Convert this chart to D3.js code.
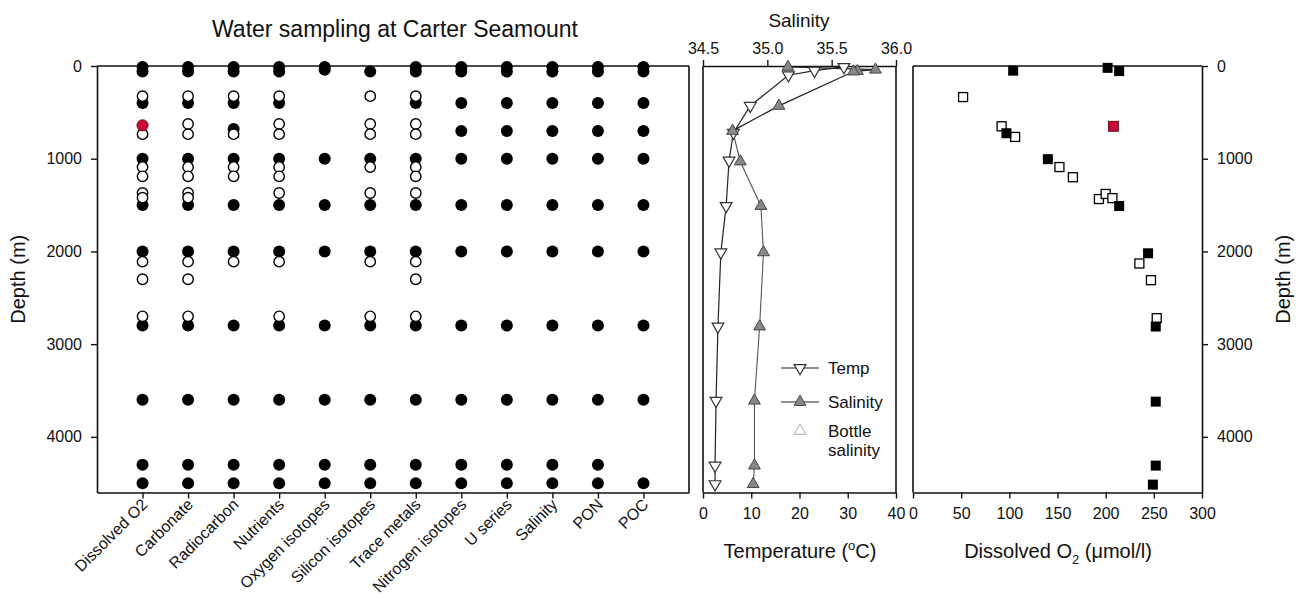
<!DOCTYPE html>
<html><head><meta charset="utf-8">
<script src="https://cdn.jsdelivr.net/npm/d3@7"></script>
<style>
body{margin:0;background:#fff;}
svg text{font-family:Arial,"Liberation Sans",sans-serif;fill:#111;}
</style></head>
<body><svg id="c" width="1304" height="599"></svg>
<script>
// ---------- data ----------
const categories = ["Dissolved O2","Carbonate","Radiocarbon","Nutrients","Oxygen isotopes","Silicon isotopes","Trace metals","Nitrogen isotopes","U series","Salinity","PON","POC"];
const filledDepths = [
  [10,60,400,1000,1500,2000,2800,3600,4300,4500],
  [10,60,400,1000,1500,2000,2800,3600,4300,4500],
  [10,60,400,680,1000,1500,2000,2800,3600,4300,4500],
  [10,60,400,1000,1500,2000,2800,3600,4300,4500],
  [10,40,1000,1500,2000,2800,3600,4300,4500],
  [60,1000,1500,2000,2800,3600,4300,4500],
  [10,60,400,1000,1500,2000,2800,3600,4300,4500],
  [10,60,400,700,1000,1500,2000,2800,3600,4300,4500],
  [10,60,400,700,1000,1500,2000,2800,3600,4300,4500],
  [10,60,400,700,1000,1500,2000,2800,3600,4300,4500],
  [10,60,400,700,1000,1500,2000,2800,3600,4300,4500],
  [10,60,400,700,1000,1500,2000,2800,3600,4500]
];
const openDepths = [
  [325,735,1090,1190,1370,1420,2110,2300,2700],
  [325,625,735,1090,1190,1370,1420,2110,2300,2700],
  [325,735,1090,1190,2110],
  [325,625,735,1090,1190,1370,2110,2700],
  [],
  [325,625,735,1090,1370,2110,2700],
  [325,625,735,1090,1190,1370,2110,2300,2700],
  [],[],[],[],[]
];
const redDepths = [[640],[],[],[],[],[],[],[],[],[],[],[]];

const tempDepth = [10,50,100,430,720,1020,1510,2010,2810,3610,4310,4510];
const tempValue = [29.2,23.1,17.7,9.8,6.3,5.4,4.8,3.7,3.1,2.7,2.5,2.5];
const salDepth = [10,40,55,60,430,700,1030,1510,2010,2810,3610,4310,4510];
const salValue = [35.16,35.84,35.70,35.67,35.09,34.73,34.79,34.95,34.97,34.94,34.90,34.90,34.89];

const o2FilledDepth = [50,20,55,725,1005,1510,2020,2810,3620,4310,4515];
const o2FilledValue = [104,202,214,97,140,214,244,252,252,252,249];
const o2OpenDepth = [335,650,765,1090,1200,1435,1380,1425,2130,2310,2720];
const o2OpenValue = [52,92,106,152,166,193,200,207,235,247,253];
const o2RedDepth = [650];
const o2RedValue = [208];

const depthTicks = [0,1000,2000,3000,4000];
const tempTicks = [0,10,20,30,40];
const salTicks = [34.5,35.0,35.5,36.0];
const o2Ticks = [0,50,100,150,200,250,300];

// ---------- scales ----------
const svg = d3.select("#c");
const y = d3.scaleLinear().domain([0,4600]).range([66,492.5]);
const xCat = d3.scalePoint().domain(categories).range([97,689]).padding(1);
const xTemp = d3.scaleLinear().domain([0,40]).range([703,896]);
const xSal = d3.scaleLinear().domain([34.5,36]).range([703,896]);
const xO2 = d3.scaleLinear().domain([0,300]).range([913,1202]);
const yTop = y.range()[0], yBot = y.range()[1];

function styleAxis(g){
  g.selectAll("path.domain").attr("stroke","#111").attr("stroke-width",1.6);
  g.selectAll(".tick line").attr("stroke","#111").attr("stroke-width",1.4);
  g.selectAll(".tick text").attr("font-size",16).attr("fill","#222");
}
function frameLine(x1,y1,x2,y2){
  svg.append("line").attr("x1",x1).attr("y1",y1).attr("x2",x2).attr("y2",y2)
    .attr("stroke","#111").attr("stroke-width",1.6);
}

// ---------- left panel ----------
svg.append("text").attr("x",395).attr("y",37).attr("text-anchor","middle").attr("font-size",23).text("Water sampling at Carter Seamount");
svg.append("g").attr("transform",`translate(${xCat.range()[0]},0)`)
  .call(d3.axisLeft(y).tickValues(depthTicks).tickFormat(d3.format("d")).tickSize(6).tickPadding(9).tickSizeOuter(0)).call(styleAxis);
svg.append("g").attr("transform",`translate(0,${yBot})`)
  .call(d3.axisBottom(xCat).tickSize(6).tickSizeOuter(0).tickFormat("")).call(styleAxis);
frameLine(97,yTop,689,yTop);
frameLine(689,yTop,689,yBot);
svg.append("text").attr("transform",`translate(25,${(yTop+yBot)/2}) rotate(-90)`).attr("text-anchor","middle").attr("font-size",20).text("Depth (m)");
svg.append("g").selectAll("text").data(categories).join("text")
  .attr("transform",d=>`translate(${xCat(d)+6},${yBot+13}) rotate(-45)`)
  .attr("text-anchor","end").attr("font-size",16).attr("fill","#222").text(d=>d);

const filledPts=[], openPts=[], redPts=[];
categories.forEach((c,i)=>{
  filledDepths[i].forEach(d=>filledPts.push([c,d]));
  openDepths[i].forEach(d=>openPts.push([c,d]));
  redDepths[i].forEach(d=>redPts.push([c,d]));
});
svg.append("g").selectAll("circle").data(filledPts).join("circle")
  .attr("cx",d=>xCat(d[0])).attr("cy",d=>y(d[1])).attr("r",6).attr("fill","#000");
svg.append("g").selectAll("circle").data(openPts).join("circle")
  .attr("cx",d=>xCat(d[0])).attr("cy",d=>y(d[1])).attr("r",5.2).attr("fill","#fff").attr("stroke","#000").attr("stroke-width",1.4);
svg.append("g").selectAll("circle").data(redPts).join("circle")
  .attr("cx",d=>xCat(d[0])).attr("cy",d=>y(d[1])).attr("r",5.6).attr("fill","#cc0838").attr("stroke","#400").attr("stroke-width",0.8);

// ---------- middle panel ----------
svg.append("g").attr("transform",`translate(0,${yBot})`)
  .call(d3.axisBottom(xTemp).tickValues(tempTicks).tickSize(6).tickPadding(9).tickSizeOuter(0)).call(styleAxis);
svg.append("g").attr("transform",`translate(0,${yTop})`)
  .call(d3.axisTop(xSal).tickValues(salTicks).tickFormat(d3.format(".1f")).tickSize(6).tickPadding(6).tickSizeOuter(0)).call(styleAxis);
frameLine(703,yTop,703,yBot);
frameLine(896,yTop,896,yBot);
svg.append("text").attr("x",799).attr("y",27).attr("text-anchor","middle").attr("font-size",19).text("Salinity");
const tl = svg.append("text").attr("x",800).attr("y",558).attr("text-anchor","middle").attr("font-size",20);
tl.append("tspan").text("Temperature (");
tl.append("tspan").attr("font-size",13).attr("dy",-8).text("o");
tl.append("tspan").attr("dy",8).text("C)");

const tempPts = tempDepth.map((d,i)=>[tempValue[i],d]);
const salPts = salDepth.map((d,i)=>[salValue[i],d]);
const splitAt = 5;
svg.append("path").datum(tempPts).attr("fill","none").attr("stroke","#222").attr("stroke-width",1.2)
  .attr("d",d3.line().x(d=>xTemp(d[0])).y(d=>y(d[1])));
const salLine = d3.line().x(d=>xSal(d[0])).y(d=>y(d[1]));
svg.append("path").datum(salPts.slice(0,splitAt+1)).attr("fill","none").attr("stroke","#222").attr("stroke-width",1.2).attr("d",salLine);
svg.append("path").datum(salPts.slice(splitAt)).attr("fill","none").attr("stroke","#555").attr("stroke-width",1.1).attr("d",salLine);
const tri = d3.symbol().type(d3.symbolTriangle).size(60);
svg.append("g").selectAll("path").data(tempPts).join("path")
  .attr("transform",d=>`translate(${xTemp(d[0])},${y(d[1])}) rotate(180)`)
  .attr("d",tri).attr("fill","#fff").attr("stroke","#333").attr("stroke-width",1.2);
svg.append("g").selectAll("path").data(salPts).join("path")
  .attr("transform",d=>`translate(${xSal(d[0])},${y(d[1])})`)
  .attr("d",tri).attr("fill","#888").attr("stroke","#444").attr("stroke-width",1);

// legend
const lg = svg.append("g");
lg.append("line").attr("x1",781).attr("x2",819).attr("y1",368).attr("y2",368).attr("stroke","#222").attr("stroke-width",1.2);
lg.append("path").attr("transform","translate(800,368) rotate(180)").attr("d",tri).attr("fill","#fff").attr("stroke","#333").attr("stroke-width",1.2);
lg.append("text").attr("x",828).attr("y",374).attr("font-size",17).text("Temp");
lg.append("line").attr("x1",781).attr("x2",819).attr("y1",402).attr("y2",402).attr("stroke","#222").attr("stroke-width",1.2);
lg.append("path").attr("transform","translate(800,402)").attr("d",tri).attr("fill","#888").attr("stroke","#444");
lg.append("text").attr("x",828).attr("y",408).attr("font-size",17).text("Salinity");
lg.append("path").attr("transform","translate(800,431)").attr("d",tri).attr("fill","#fff").attr("stroke","#aaa");
lg.append("text").attr("x",828).attr("y",437).attr("font-size",17).text("Bottle");
lg.append("text").attr("x",828).attr("y",456).attr("font-size",17).text("salinity");

// ---------- right panel ----------
svg.append("g").attr("transform",`translate(0,${yBot})`)
  .call(d3.axisBottom(xO2).tickValues(o2Ticks).tickSize(6).tickPadding(9).tickSizeOuter(0)).call(styleAxis);
svg.append("g").attr("transform",`translate(${xO2.range()[1]},0)`)
  .call(d3.axisRight(y).tickValues(depthTicks).tickFormat(d3.format("d")).tickSize(6).tickPadding(9).tickSizeOuter(0)).call(styleAxis);
frameLine(913,yTop,1202,yTop);
frameLine(913,yTop,913,yBot);
svg.append("text").attr("transform",`translate(1290,${(yTop+yBot)/2}) rotate(-90)`).attr("text-anchor","middle").attr("font-size",20).text("Depth (m)");
const ol = svg.append("text").attr("x",1058).attr("y",558).attr("text-anchor","middle").attr("font-size",20);
ol.append("tspan").text("Dissolved O");
ol.append("tspan").attr("font-size",13).attr("dy",6).text("2");
ol.append("tspan").attr("dy",-6).text(" (\u03bcmol/l)");

const sq = 10;
svg.append("g").selectAll("rect").data(o2OpenDepth.map((d,i)=>[o2OpenValue[i],d])).join("rect")
  .attr("x",d=>xO2(d[0])-4.5).attr("y",d=>y(d[1])-4.5).attr("width",9).attr("height",9)
  .attr("fill","#fff").attr("stroke","#000").attr("stroke-width",1.3);
svg.append("g").selectAll("rect").data(o2FilledDepth.map((d,i)=>[o2FilledValue[i],d])).join("rect")
  .attr("x",d=>xO2(d[0])-sq/2).attr("y",d=>y(d[1])-sq/2).attr("width",sq).attr("height",sq).attr("fill","#000");
svg.append("g").selectAll("rect").data(o2RedDepth.map((d,i)=>[o2RedValue[i],d])).join("rect")
  .attr("x",d=>xO2(d[0])-sq/2).attr("y",d=>y(d[1])-sq/2).attr("width",sq).attr("height",sq)
  .attr("fill","#cc0838").attr("stroke","#400").attr("stroke-width",0.8);
</script></body></html>
